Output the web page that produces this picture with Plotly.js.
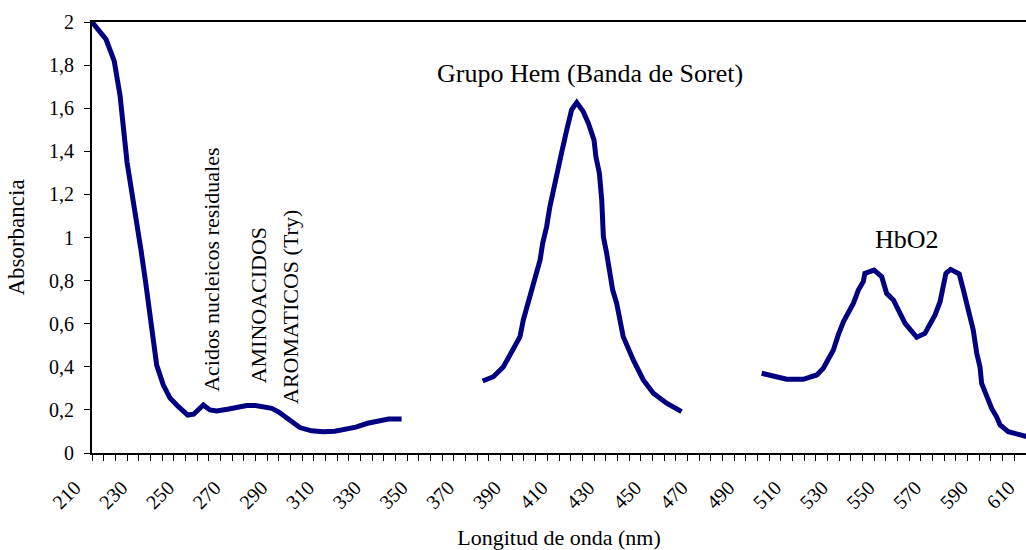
<!DOCTYPE html>
<html>
<head>
<meta charset="utf-8">
<script src="https://cdn.plot.ly/plotly-3.0.1.min.js"></script>
<style>html,body{margin:0;padding:0;background:#fff}#chart{width:1026px;height:550px}</style>
</head>
<body>
<div id="chart"></div>
<script>
// Wavelength (nm) and absorbance readings, three measured segments
const wl1  = [210, 216, 219.5, 222, 225, 228, 231, 233, 235.6, 237.7, 240.5, 243.4, 247, 251, 253.5, 257.7, 260.5, 263.4, 268, 272, 276.3, 280, 283, 287, 290, 294, 299, 304, 309, 314, 318, 323, 328, 333, 337, 342.6];
const abs1 = [2.00, 1.92, 1.82, 1.66, 1.35, 1.16, 0.94, 0.79, 0.557, 0.408, 0.316, 0.255, 0.215, 0.176, 0.18, 0.223, 0.20, 0.195, 0.203, 0.21, 0.22, 0.22, 0.215, 0.207, 0.19, 0.155, 0.118, 0.103, 0.099, 0.101, 0.108, 0.12, 0.138, 0.15, 0.158, 0.158];

const wl2  = [377.3, 381.9, 386.2, 390.4, 393.3, 394.7, 398.3, 400.4, 401.9, 403, 404.7, 406.1, 408.3, 409.7, 411.2, 413.3, 415.4, 417.6, 420.4, 422.6, 425, 425.8, 427.3, 428.3, 429, 430.4, 431.8, 433, 434.7, 437.5, 441.8, 446.1, 450.4, 456.1, 462.5];
const abs2 = [0.334, 0.354, 0.40, 0.478, 0.54, 0.617, 0.756, 0.849, 0.896, 0.973, 1.05, 1.143, 1.259, 1.344, 1.398, 1.499, 1.592, 1.626, 1.584, 1.53, 1.452, 1.375, 1.298, 1.174, 1.004, 0.927, 0.818, 0.756, 0.695, 0.54, 0.432, 0.339, 0.277, 0.231, 0.192];

const wl3  = [496.8, 503.2, 507.5, 514.6, 520.4, 523.2, 527.5, 529.6, 531.8, 536.1, 538.2, 540.3, 541, 544.9, 548.2, 550.3, 553.2, 558.2, 563.2, 566.7, 571, 573.2, 574.6, 575.7, 577.7, 581.4, 583.2, 585.3, 587.4, 588.9, 590.3, 591, 593.1, 595.3, 597.4, 598.9, 602.4, 610.3];
const abs3 = [0.37, 0.35, 0.342, 0.342, 0.362, 0.393, 0.478, 0.548, 0.609, 0.695, 0.756, 0.795, 0.834, 0.849, 0.818, 0.741, 0.71, 0.602, 0.537, 0.555, 0.64, 0.702, 0.772, 0.834, 0.852, 0.831, 0.756, 0.664, 0.571, 0.463, 0.40, 0.323, 0.261, 0.207, 0.168, 0.13, 0.099, 0.076];

const xTickVals = [210, 230, 250, 270, 290, 310, 330, 350, 370, 390, 410, 430, 450, 470, 490, 510, 530, 550, 570, 590, 610];
const yTickVals = [0, 0.2, 0.4, 0.6, 0.8, 1, 1.2, 1.4, 1.6, 1.8, 2];

const labels = [
  {text: 'Acidos nucleicos residuales', x: 261.4, y: 0.85, angle: -90, size: 22},
  {text: 'AMINOACIDOS', x: 281.7, y: 0.687, angle: -90, size: 22},
  {text: 'AROMATICOS (Try)', x: 295, y: 0.68, angle: -90, size: 22},
  {text: 'Grupo Hem (Banda de Soret)', x: 423.3, y: 1.76, angle: 0, size: 26},
  {text: 'HbO2', x: 559, y: 0.99, angle: 0, size: 26}
];

const lineStyle = {color: '#000080', width: 5, shape: 'linear'};
const traces = [[wl1, abs1], [wl2, abs2], [wl3, abs3]].map(([x, y]) => ({
  x: x, y: y, type: 'scatter', mode: 'lines', line: lineStyle, hoverinfo: 'x+y', showlegend: false
}));

const FONT = 'Liberation Serif';

const layout = {
  width: 1026, height: 550,
  margin: {l: 92, r: 0, t: 22, b: 97},
  paper_bgcolor: '#ffffff', plot_bgcolor: '#ffffff',
  separators: ',.',
  font: {family: FONT, color: '#000000', size: 20},
  showlegend: false,
  xaxis: {
    range: [210, 610],
    tickmode: 'array', tickvals: xTickVals,
    ticktext: xTickVals.map(String),
    tickangle: -45,
    ticklabeloverflow: 'allow',
    ticklabelshift: -17,
    ticklabelstandoff: 7,
    ticks: 'outside', ticklen: 6, tickwidth: 1, tickcolor: '#000',
    minor: {dtick: 5, tick0: 210, ticks: 'outside', ticklen: 6, tickwidth: 1, tickcolor: '#000', showgrid: false},
    showline: true, linecolor: '#000', linewidth: 2, mirror: true,
    showgrid: false, zeroline: false,
    tickfont: {family: FONT, size: 20, color: '#000'},
    title: {text: 'Longitud de onda (nm)', font: {family: FONT, size: 22, color: '#000'}, standoff: 19}
  },
  yaxis: {
    range: [0, 2],
    tickmode: 'array', tickvals: yTickVals,
    ticks: 'outside', ticklen: 6, tickwidth: 1, tickcolor: '#000',
    ticklabelstandoff: 6,
    showline: true, linecolor: '#000', linewidth: 2,
    showgrid: false, zeroline: false,
    tickfont: {family: FONT, size: 20, color: '#000'},
    title: {text: 'Absorbancia', font: {family: FONT, size: 23, color: '#000'}, standoff: 18}
  },
  annotations: labels.map(l => ({
    text: l.text, x: l.x, y: l.y, xref: 'x', yref: 'y',
    showarrow: false, textangle: l.angle,
    font: {family: FONT, size: l.size, color: '#000'},
    xanchor: 'center', yanchor: 'middle'
  }))
};

Plotly.newPlot('chart', traces, layout, {displayModeBar: false, staticPlot: true});
</script>
</body>
</html>
